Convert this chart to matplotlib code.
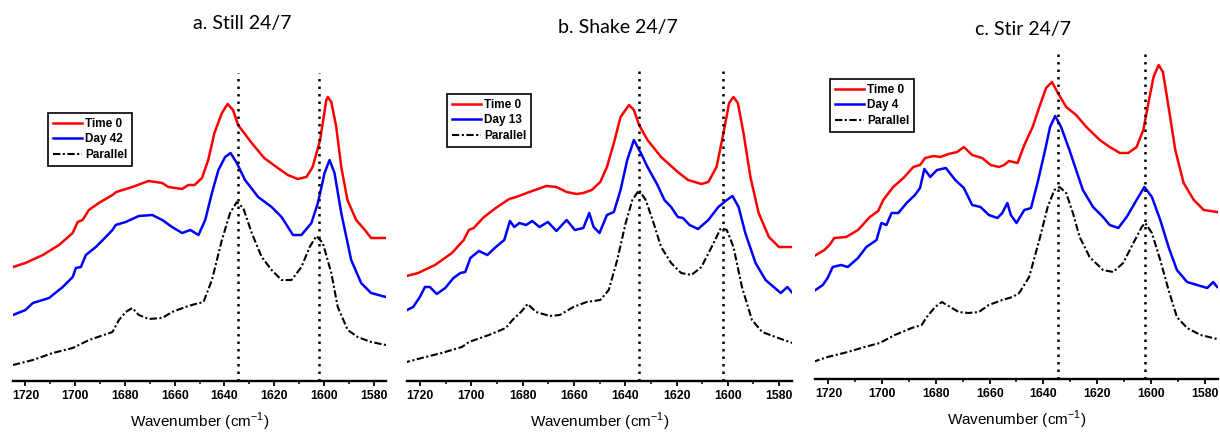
import matplotlib
matplotlib.use("Agg")
import matplotlib.pyplot as plt
from matplotlib.ticker import MultipleLocator

# ---- data (absorbance, arbitrary offset units) ----
titles = ["a. Still 24/7", "b. Shake 24/7", "c. Stir 24/7"]
day_labels = ["Day 42", "Day 13", "Day 4"]
peak_lines = [1634.5, 1602]

# a. Still
still_t0_wn = [1725, 1720, 1713, 1706.5, 1701, 1699, 1697, 1694.5, 1690.5, 1685, 1683.5, 1677, 1670.5,
               1665, 1662.5, 1657, 1654.5, 1652, 1649, 1646.5, 1644, 1641, 1638.7, 1636.5, 1634.5, 1629,
               1624, 1618.5, 1614.5, 1610.5, 1607, 1604.5, 1601.5, 1599, 1598.4, 1597, 1595, 1593,
               1590.5, 1587, 1583.5, 1581, 1575]
still_t0 = [114, 118, 126, 136, 148, 159, 161, 171, 178, 186, 189, 194, 200,
            198, 194, 192, 196, 196, 203, 221, 248, 268, 277, 271, 256, 238,
            223, 213, 206, 202, 204, 214, 241, 281, 284, 279, 254, 214,
            181, 161, 151, 143, 143]
still_day_wn = [1725, 1720, 1717, 1710.5, 1705, 1701, 1699.7, 1697.7, 1695.7, 1691.7, 1687.7, 1685, 1683.7,
                1679.7, 1674.4, 1669, 1665, 1661, 1657, 1653.7, 1650.4, 1647.7, 1645, 1642.4, 1639.7,
                1637.5, 1635, 1631.7, 1626.4, 1621, 1617, 1612.4, 1609, 1605, 1602.4, 1599.7, 1597.7,
                1595.7, 1593, 1589, 1585, 1581, 1575]
still_day = [66, 71, 78, 83, 94, 104, 113, 114, 126, 134, 144, 151, 156,
             159, 165, 166, 161, 154, 148, 151, 146, 161, 188, 211, 224,
             228, 218, 201, 184, 174, 164, 146, 146, 158, 178, 208, 221,
             208, 168, 121, 98, 88, 84]
still_par_wn = [1725, 1717, 1709, 1701, 1694.4, 1685, 1682.4, 1679.7, 1677, 1674.4, 1670.4, 1665, 1661,
                1655.7, 1651.7, 1648.4, 1645, 1641, 1637.7, 1635, 1632.4, 1629, 1625, 1621, 1617, 1613,
                1609, 1605.7, 1603, 1600.4, 1597, 1594.4, 1590.4, 1586.4, 1581, 1575]
still_par = [16, 21, 28, 33, 41, 49, 61, 69, 73, 66, 62, 63, 69,
             74, 77, 79, 101, 141, 168, 179, 173, 148, 124, 111, 101, 101,
             114, 134, 145, 138, 108, 74, 51, 44, 39, 36]

# b. Shake
shake_t0_wn = [1726.6, 1720.7, 1714.1, 1707.5, 1702.9, 1700.9, 1699, 1695, 1690.4, 1685.2, 1682.5, 1677.3,
               1670.7, 1666.8, 1662.8, 1658.9, 1656.3, 1653, 1649.7, 1647.1, 1644.4, 1641.8, 1638.5,
               1636.6, 1634.6, 1631.3, 1626, 1619.5, 1615.5, 1610.3, 1607.6, 1604.4, 1601.7, 1599.5,
               1597.8, 1596.1, 1593.9, 1591.2, 1588, 1584, 1580.1, 1574.8]
shake_t0 = [104, 108, 116, 128, 141, 151, 153, 164, 173, 182, 184, 189,
            195, 194, 189, 187, 188, 191, 199, 214, 238, 264, 276,
            271, 256, 241, 224, 209, 201, 197, 199, 214, 248, 278,
            284, 278, 248, 204, 168, 144, 134, 134]
shake_day_wn = [1726.6, 1722.6, 1720, 1718, 1716.1, 1713.4, 1710.1, 1706.9, 1704.2, 1702.3, 1700.3, 1697,
                1693.7, 1690.4, 1687.1, 1684.9, 1683.2, 1681.2, 1678.6, 1676.2, 1673.4, 1670.1, 1666.8,
                1662.8, 1659.6, 1656.3, 1654, 1652.3, 1650, 1647.1, 1644.4, 1641.8, 1639.2, 1636.6,
                1633.9, 1631.3, 1627.4, 1624.7, 1622.1, 1619.5, 1617.5, 1614.9, 1611.6, 1607.6, 1603.7,
                1600.4, 1598.2, 1595.8, 1593.2, 1589.2, 1585.3, 1579.4, 1576.8, 1574.8]
shake_day = [69, 74, 84, 94, 94, 87, 93, 103, 108, 109, 123, 130,
             126, 134, 141, 160, 154, 158, 156, 160, 154, 159, 150,
             161, 151, 153, 168, 154, 148, 166, 169, 191, 221, 241,
             228, 214, 196, 181, 174, 164, 163, 156, 152, 161, 174,
             181, 185, 174, 148, 118, 101, 88, 94, 88]
shake_par_wn = [1726.6, 1719.3, 1711.5, 1703.6, 1700.9, 1693.1, 1686.5, 1683.9, 1680.6, 1678, 1674.7, 1669.4,
                1665.5, 1660.2, 1655, 1649.7, 1646.4, 1643.1, 1639.8, 1637.2, 1634.6, 1632, 1629.3, 1626,
                1622.1, 1618.2, 1614.2, 1610.3, 1606.3, 1602.7, 1600.4, 1597.8, 1594.5, 1590.6, 1586.6,
                1581.4, 1574.8]
shake_par = [18, 23, 28, 34, 39, 46, 53, 61, 69, 77, 69, 65,
             66, 74, 79, 81, 91, 121, 158, 181, 191, 181, 161, 134,
             118, 108, 106, 114, 134, 153, 151, 134, 94, 61, 49,
             44, 38]

# c. Stir
stir_t0_wn = [1725.9, 1721.5, 1719.6, 1717.8, 1713.4, 1709, 1704.6, 1701.5, 1699.6, 1695.9, 1692.1, 1688.4,
              1685.9, 1684, 1680.9, 1678.4, 1675.3, 1672.1, 1669.6, 1666.5, 1662.8, 1659.6, 1656.5, 1654.6,
              1652.8, 1649.6, 1647.1, 1644, 1641.5, 1639, 1636.8, 1634.6, 1631.5, 1627.8, 1624, 1619,
              1615.3, 1611.5, 1608.4, 1605.3, 1602.8, 1600.9, 1599, 1597.1, 1595.5, 1593.4, 1590.9,
              1587.8, 1584, 1580.3, 1575.3]
stir_t0 = [122, 129, 134, 141, 142, 149, 162, 168, 179, 192, 201, 212,
           214, 221, 223, 222, 225, 227, 232, 224, 221, 214, 212, 214,
           218, 216, 234, 252, 272, 291, 297, 286, 272, 264, 252, 239,
           232, 226, 226, 232, 249, 276, 302, 314, 307, 272, 229,
           196, 179, 169, 167]
stir_day_wn = [1725.9, 1722.1, 1720.3, 1718.4, 1715.3, 1712.8, 1709, 1705.9, 1702.1, 1700.3, 1698.4, 1696.5,
               1694, 1690.9, 1687.8, 1685.9, 1684.3, 1682.1, 1679.6, 1676.3, 1672.8, 1669.6, 1666.5, 1663.4,
               1660.3, 1657.1, 1655.3, 1653.4, 1652.1, 1650, 1647.1, 1644.6, 1642.1, 1639.6, 1637.5, 1635.6,
               1633.4, 1630.3, 1627.8, 1625.3, 1621.5, 1617.8, 1615.3, 1612.1, 1609, 1605.3, 1602.4,
               1599.6, 1596.5, 1593.4, 1590.3, 1586.5, 1582.8, 1579, 1576.8, 1575.3]
stir_day = [87, 94, 101, 112, 114, 112, 121, 132, 139, 156, 154, 166,
            166, 176, 184, 191, 210, 202, 209, 211, 199, 191, 174, 172,
            164, 161, 166, 176, 164, 156, 169, 171, 197, 226, 252, 263,
            252, 229, 209, 189, 172, 162, 154, 151, 162, 179, 192,
            182, 159, 132, 109, 97, 94, 91, 97, 92]
stir_par_wn = [1725.9, 1720.3, 1712.8, 1706.5, 1700.9, 1695.3, 1689, 1685.3, 1683.4, 1680.3, 1677.8, 1675.3,
               1671.5, 1667.8, 1664, 1660.3, 1655.3, 1651.5, 1649, 1645.3, 1641.5, 1638.4, 1635.9, 1634,
               1631.5, 1629, 1626.5, 1622.8, 1617.8, 1614, 1610.3, 1606.5, 1603.4, 1602.1, 1599.6,
               1596.5, 1593.4, 1590.3, 1586.5, 1581.5, 1575.3]
stir_par = [17, 22, 27, 32, 36, 44, 51, 54, 62, 72, 77, 73,
            67, 66, 67, 74, 79, 82, 86, 102, 139, 172, 189, 192,
            186, 166, 142, 122, 109, 107, 116, 136, 152, 156, 146,
            119, 89, 62, 51, 44, 40]

panels = [
    (still_t0_wn, still_t0, still_day_wn, still_day, still_par_wn, still_par),
    (shake_t0_wn, shake_t0, shake_day_wn, shake_day, shake_par_wn, shake_par),
    (stir_t0_wn, stir_t0, stir_day_wn, stir_day, stir_par_wn, stir_par),
]

# ---- layout (pixels of a 1220x432 canvas) ----
W, H = 1220, 432
ax_px = [(13, 386, 73, 381), (407, 792, 67, 381), (815, 1218, 50, 379)]   # left, right, top, bottom
title_px = [(242, 24), (618, 27), (1023, 30)]
legend_px = [(48, 113), (447, 94), (830, 79)]

plt.rcParams['font.family'] = ['Liberation Sans', 'DejaVu Sans']

fig = plt.figure(figsize=(W / 100, H / 100), dpi=100)

for i, (t0x, t0y, dx, dy, px, py) in enumerate(panels):
    l, r, t, b = ax_px[i]
    ax = fig.add_axes([l / W, 1 - b / H, (r - l) / W, (b - t) / H])
    ax.plot(t0x, t0y, color='#ff0000', lw=1.8, label='Time 0')
    ax.plot(dx, dy, color='#0000ff', lw=1.8, label=day_labels[i])
    ax.plot(px, py, color='black', lw=1.5, dashes=(3.5, 1.2, 1, 1.2), label='Parallel')
    for wn in peak_lines:
        ax.axvline(wn, color='black', lw=1.8, linestyle=(0, (1, 2)))

    ax.set_xlim(1725, 1575)
    ax.set_ylim(0, b - t)
    for s in ['top', 'left', 'right']:
        ax.spines[s].set_visible(False)
    ax.spines['bottom'].set_linewidth(1.7)
    ax.set_yticks([])
    ax.xaxis.set_major_locator(MultipleLocator(20))
    ax.xaxis.set_minor_locator(MultipleLocator(10))
    ax.tick_params(axis='x', which='major', length=3.5, width=1.3, pad=3)
    ax.tick_params(axis='x', which='minor', length=2, width=1.1)
    for lab in ax.get_xticklabels():
        lab.set_fontweight('bold')
        lab.set_fontsize(8.8)
    ax.set_xlabel('Wavenumber (cm$^{\\mathregular{-1}}$)', fontsize=11, labelpad=6.5)

    lx, ly = legend_px[i]
    leg = ax.legend(loc='upper left', bbox_to_anchor=((lx - l) / (r - l), 1 - (ly - t) / (b - t)),
                    frameon=True, fancybox=False, edgecolor='black', framealpha=1,
                    prop={'weight': 'bold', 'size': 8.5}, handlelength=2.5, handletextpad=0.25,
                    labelspacing=0.3, borderpad=0.4, borderaxespad=0)
    leg.get_frame().set_linewidth(1.2)

    tx, ty = title_px[i]
    fig.text(tx / W, 1 - ty / H, titles[i], ha='center', va='center', fontsize=14,
             family=['Lato', 'DejaVu Sans'])

fig.savefig('out.png', dpi=100)
